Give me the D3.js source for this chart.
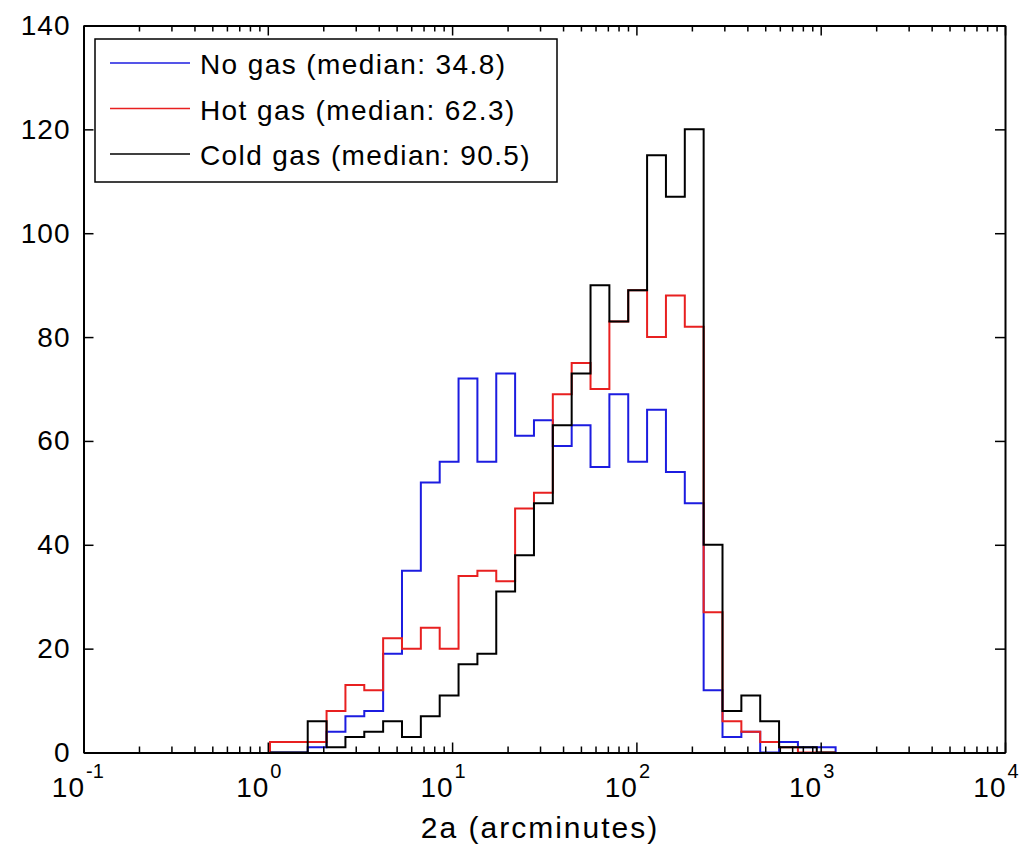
<!DOCTYPE html>
<html>
<head>
<meta charset="utf-8">
<script src="https://cdn.jsdelivr.net/npm/d3@7"></script>
<style>
  body { margin: 0; background: #fff; }
  text { font-family: "Liberation Sans", Arial, Helvetica, sans-serif; fill: #000; }
</style>
</head>
<body>
<svg width="1028" height="845"></svg>
<script>
// histogram counts per log bin (30 bins)
var noGas   = [0,0,1,4,7,8,19,35,52,56,72,56,73,61,64,59,63,55,69,56,66,54,48,12,3,4,0,2,1,1];
var hotGas  = [2,2,2,8,13,12,22,20,24,20,34,35,33,47,50,69,75,70,83,89,80,88,82,27,6,4,2,1,0,0];
var coldGas = [0,0,6,1,3,4,6,3,7,11,17,19,31,38,48,63,73,90,83,89,115,107,120,40,8,11,6,1,1,0];

var seriesNames  = ["No gas (median: 34.8)", "Hot gas (median: 62.3)", "Cold gas (median: 90.5)"];
var seriesColors = ["#1c1ce0", "#e82020", "#000000"];

// bins are evenly spaced in log10(2a)
var binLogMin = 0.012, binLogMax = 3.081, binCount = 30;

var yTicks = [0, 20, 40, 60, 80, 100, 120, 140];
var xDecades = [-1, 0, 1, 2, 3, 4];
var xLabel = "2a (arcminutes)";

var svg = d3.select("svg");
var plotLeft = 83.5, plotRight = 1005, plotTop = 25.5, plotBottom = 752.5;

var x = d3.scaleLog().domain([0.1, 10000]).range([plotLeft, plotRight]);
var y = d3.scaleLinear().domain([0, 140]).range([plotBottom, plotTop]);

var edges = d3.range(binCount + 1).map(function(i) {
  return Math.pow(10, binLogMin + i * (binLogMax - binLogMin) / binCount);
});

function stepPoints(counts) {
  var pts = [[edges[0], 0]];
  counts.forEach(function(c, i) { pts.push([edges[i], c]); });
  pts.push([edges[binCount], counts[binCount - 1]]);
  pts.push([edges[binCount], 0]);
  return pts;
}

var line = d3.line()
  .x(function(d) { return x(d[0]); })
  .y(function(d) { return y(d[1]); })
  .curve(d3.curveStepAfter);

[noGas, hotGas, coldGas].forEach(function(s, i) {
  svg.append("path")
    .attr("d", line(stepPoints(s)))
    .attr("fill", "none")
    .attr("stroke", seriesColors[i])
    .attr("stroke-width", 2)
    .attr("stroke-linejoin", "miter");
});

// tick values: decades + minor 2..9
var majorVals = xDecades.map(function(e) { return Math.pow(10, e); });
var minorVals = [];
xDecades.slice(0, -1).forEach(function(e) {
  for (var m = 2; m <= 9; m++) minorVals.push(m * Math.pow(10, e));
});

function styleAxis(g) {
  g.select(".domain").attr("stroke", "#000").attr("stroke-width", 2);
  g.selectAll(".tick line").attr("stroke", "#000").attr("stroke-width", 1.5);
}

// bottom / top minor
svg.append("g").attr("transform", "translate(0," + plotBottom + ")")
  .call(d3.axisBottom(x).tickValues(minorVals).tickSize(-6).tickSizeOuter(0).tickFormat(""))
  .call(styleAxis);
svg.append("g").attr("transform", "translate(0," + plotTop + ")")
  .call(d3.axisTop(x).tickValues(minorVals).tickSize(-6).tickSizeOuter(0).tickFormat(""))
  .call(styleAxis);

// bottom / top major
var xb = svg.append("g").attr("transform", "translate(0," + plotBottom + ")")
  .call(d3.axisBottom(x).tickValues(majorVals).tickSize(-10).tickSizeOuter(0).tickFormat(""))
  .call(styleAxis);
svg.append("g").attr("transform", "translate(0," + plotTop + ")")
  .call(d3.axisTop(x).tickValues(majorVals).tickSize(-10).tickSizeOuter(0).tickFormat(""))
  .call(styleAxis);

xb.selectAll(".tick text").remove();
xb.selectAll(".tick").each(function(d, i) {
  var t = d3.select(this);
  t.append("text")
    .attr("x", 1).attr("y", 44)
    .attr("text-anchor", "end")
    .attr("font-size", 28)
    .attr("letter-spacing", 1)
    .text("10");
  t.append("text")
    .attr("x", 2).attr("y", 25)
    .attr("text-anchor", "start")
    .attr("font-size", 20)
    .text(xDecades[i]);
});

// left / right y axes
svg.append("g").attr("transform", "translate(" + plotLeft + ",0)")
  .call(d3.axisLeft(y).tickValues(yTicks).tickSize(-10).tickSizeOuter(0).tickPadding(13))
  .call(styleAxis)
  .selectAll("text")
  .attr("font-size", 28)
  .attr("letter-spacing", 1);
svg.append("g").attr("transform", "translate(" + plotRight + ",0)")
  .call(d3.axisRight(y).tickValues(yTicks).tickSize(-10).tickSizeOuter(0).tickFormat(""))
  .call(styleAxis);

svg.append("text")
  .attr("x", 540)
  .attr("y", 838)
  .attr("text-anchor", "middle")
  .attr("font-size", 30)
  .attr("letter-spacing", 2)
  .text(xLabel);

// legend
var legend = svg.append("g");
legend.append("rect")
  .attr("x", 95).attr("y", 39)
  .attr("width", 462).attr("height", 143)
  .attr("fill", "#fff")
  .attr("stroke", "#000")
  .attr("stroke-width", 1.5);

seriesNames.forEach(function(name, i) {
  var ly = 63 + i * 45.5;
  legend.append("line")
    .attr("x1", 110).attr("x2", 190)
    .attr("y1", ly).attr("y2", ly)
    .attr("stroke", seriesColors[i])
    .attr("stroke-width", 1.5);
  legend.append("text")
    .attr("x", 200).attr("y", ly + 11)
    .attr("font-size", 28)
    .attr("letter-spacing", 1.4)
    .text(name);
});
</script>
</body>
</html>
